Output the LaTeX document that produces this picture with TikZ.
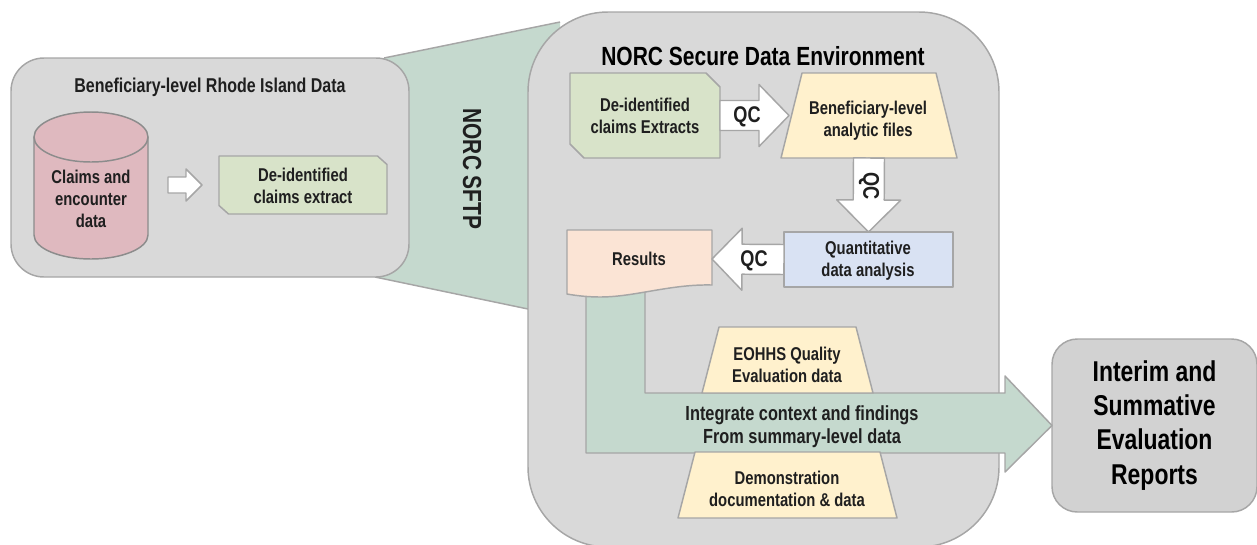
\documentclass[tikz,border=0pt]{standalone}
\usepackage{fontspec}
\setmainfont[FakeStretch=0.8]{Liberation Sans}
\usetikzlibrary{calc}
\def\px{0.75pt}
\definecolor{linegray}{HTML}{A6A6A6}
\definecolor{darkline}{HTML}{8C8C8C}
\definecolor{panelgray}{HTML}{D9D9D9}
\definecolor{reportgray}{HTML}{D2D2D2}
\definecolor{sftpgreen}{HTML}{C5D9CE}
\definecolor{extractgreen}{HTML}{D8E3C9}
\definecolor{cylred}{HTML}{DFB9BF}
\definecolor{trapyellow}{HTML}{FFF1CD}
\definecolor{quantblue}{HTML}{D9E2F3}
\definecolor{resultpeach}{HTML}{FBE4D5}
\tikzset{
  edge/.style={draw=linegray,line width=1.1pt,line join=round},
  blockarrow/.style={edge,fill=white},
  frame/.style={inner sep=0pt,outer sep=0pt},
  label/.style={inner sep=0pt,align=center,font=\fontsize{13.9}{16.5}\selectfont\bfseries,text=black!88},
  qclabel/.style={label,font=\fontsize{17}{20}\selectfont\bfseries},
}
% frame node: name, x1, y1, x2, y2
\newcommand{\framenode}[5]{\node[frame,minimum width={(#4-#2)*\px},minimum height={(#5-#3)*\px}] (#1) at ({(#2+#4)/2},{(#3+#5)/2}) {};}
% trapezoid: name x1 y1 x2 y2 inset
\newcommand{\trap}[6]{\framenode{#1}{#2}{#3}{#4}{#5}
  \draw[edge,fill=trapyellow] (#1.south west) -- (#1.south east) -- ($(#1.north east)+(-#6,0)$) -- ($(#1.north west)+(#6,0)$) -- cycle;}
% snipped box: name x1 y1 x2 y2 snipx snipy
\newcommand{\snip}[7]{\framenode{#1}{#2}{#3}{#4}{#5}
  \draw[edge,fill=extractgreen] ($(#1.north east)+(-#6,0)$) -- ($(#1.north east)+(0,#7)$) -- (#1.south east) -- ($(#1.south west)+(#6,0)$) -- ($(#1.south west)+(0,-#7)$) -- (#1.north west) -- cycle;}
% block arrow: from, tip, shaft half width, head half width, head length
\newcommand{\barrow}[5]{
  \coordinate (hb) at ($(#2)!#5*\px!(#1)$);
  \draw[blockarrow] ($(#1)!#3*\px!90:(#2)$) -- ($(hb)!#3*\px!90:(#2)$) -- ($(hb)!#4*\px!90:(#2)$) -- (#2)
    -- ($(hb)!#4*\px!-90:(#2)$) -- ($(hb)!#3*\px!-90:(#2)$) -- ($(#1)!#3*\px!-90:(#2)$) -- cycle;}
\begin{document}
\begin{tikzpicture}[x=0.75pt,y=-0.75pt]
\useasboundingbox (0,0) rectangle (1257,544);
\clip (0,0) rectangle (1257,544);

% SFTP funnel
\fill[sftpgreen] (384,58) -- (560,22) -- (560,316) -- (375,277) -- cycle;
\draw[edge] (384,58) -- (560,22) (375,277) -- (528,309);

% left panel
\draw[edge,fill=panelgray,rounded corners=24.75pt] (11,167) -- (11,58) -- (409,58) -- (409,277) -- (11,277) -- cycle;
\node[label,font=\fontsize{15}{18}\selectfont\bfseries] (lefttitle) at (210,87) {Beneficiary-level Rhode Island Data};

% cylinder
\framenode{cyl}{34}{112}{148}{259}
\draw[edge,draw=darkline,fill=cylred] (34,137) -- (34,235) arc[x radius=57*\px,y radius=24*\px,start angle=180,end angle=360] -- (148,137) -- cycle;
\draw[edge,draw=darkline,fill=cylred] (91,137) ellipse[x radius=57*\px,y radius=25*\px];
\node[label] (cyltext) at (91,199) {Claims and\\encounter\\data};

% small arrow
\coordinate (sa) at (168,185);
\coordinate (sb) at (202,185);
\barrow{sa}{sb}{8}{16}{16}

% left extract
\snip{extract}{219}{156}{387}{214}{9.5}{8.5}
\node[label] (extracttext) at (303,186) {De-identified\\claims extract};

% NORC SFTP label
\node[label,rotate=-90,font=\fontsize{19.6}{22}\selectfont\bfseries] (sftp) at (472,169) {NORC SFTP};

% main panel
\draw[edge,fill=panelgray,rounded corners=60pt] (528,300) -- (528,12) -- (999,12) -- (999,547) -- (528,547) -- cycle;
\node[label,font=\fontsize{19.7}{22}\selectfont\bfseries,text=black] (maintitle) at (763,56) {NORC Secure Data Environment};

% interim report
\node[edge,fill=reportgray,rounded corners=19pt,frame,minimum width={205*\px},minimum height={173*\px},
      font=\fontsize{21.5}{25.6}\selectfont\bfseries,align=center,text=black] (report) at (1154.5,425.5) {Interim and\\Summative\\Evaluation\\Reports};

% upper boxes
\snip{claims}{570}{73}{720}{158}{14}{14}
\node[label] (claimstext) at (645,116) {De-identified\\claims Extracts};
\trap{analytic}{781}{73}{957}{158}{21}
\node[label] (analytictext) at (868,121) {Beneficiary-level\\analytic files};

\framenode{quant}{784}{232}{953}{287}
\draw[edge,fill=quantblue] (quant.south west) rectangle (quant.north east);
\node[label] (quanttext) at (868,261) {Quantitative\\data analysis};

% QC arrows
\coordinate (qa) at ($(analytic.west)+(8,0)$);
\barrow{claims.east}{qa}{15}{31}{30}
\node[qclabel] (qc1) at (747,117) {QC};
\coordinate (qb) at ($(analytic.south)+(0,0)$);
\barrow{qb}{quant.north}{15.5}{32}{32}
\node[qclabel,rotate=-90] (qc2) at (869,186) {QC};

% integration arrow (drawn behind results)
\coordinate (tip) at (report.west);
\draw[edge,fill=sftpgreen] (586,285) -- (586,453) -- (1005,453) -- (1005,472) -- (tip) -- (1005,376) -- (1005,393) -- (645,393) -- (645,285);

% results
\framenode{results}{567}{230}{712}{288}
\draw[edge,fill=resultpeach] (results.north west) -- (results.north east) -- (712,285)
  .. controls (670,284) and (635,297) .. (600,297) .. controls (590,297) and (578,296) .. (567,294) -- cycle;
\node[label] (resultstext) at (639,259) {Results};
\barrow{quant.west}{results.east}{15}{31}{30}
\node[qclabel] (qc3) at (754,261) {QC};

% data trapezoids
\trap{eohhs}{702}{327}{873}{393}{17}
\node[label] (eohhstext) at (787,365) {EOHHS Quality\\Evaluation data};
\trap{demo}{678}{452}{897}{518}{17}
\node[label] (demotext) at (787,489) {Demonstration\\documentation \& data};

\node[label,font=\fontsize{15.3}{17.5}\selectfont\bfseries] (integrate) at (802,427) {Integrate context and findings\\From summary-level data};
\end{tikzpicture}
\end{document}
